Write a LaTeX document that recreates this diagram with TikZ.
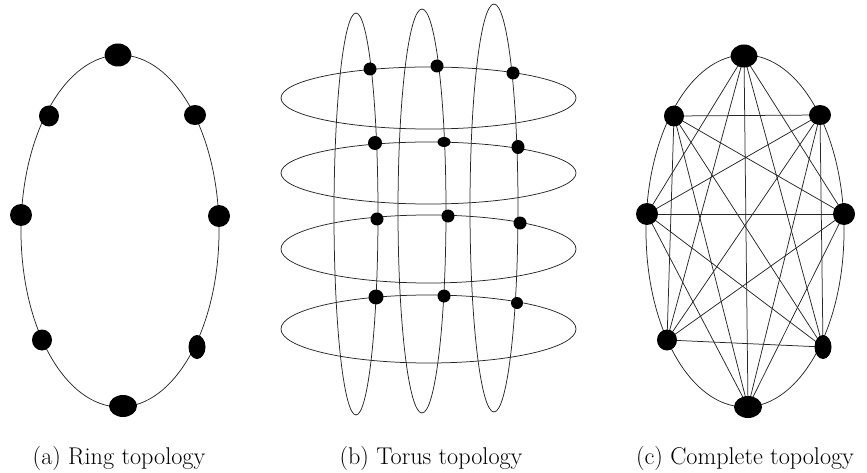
\documentclass[tikz,border=0pt]{standalone}
\usetikzlibrary{shapes.geometric}
\pgfdeclarelayer{bg}
\pgfsetlayers{bg,main}
\begin{document}
\begin{tikzpicture}[x=1pt,y=-1pt,
  wire/.style={draw=black!85,line width=0.75pt},
  dot/.style={ellipse,fill=black,inner sep=0pt},
  captext/.style={font=\fontsize{24.2}{29}\selectfont,inner sep=0pt,anchor=base}]
\useasboundingbox (0,0) rectangle (867,473);
% (a) ring
\draw[wire] (120,231) ellipse [x radius=99,y radius=176];
\node[dot,minimum width=27pt,minimum height=23pt] (a1) at (118,55) {};
\node[dot,minimum width=22pt,minimum height=20pt] (a2) at (195,115) {};
\node[dot,minimum width=22pt,minimum height=22pt] (a3) at (219,216) {};
\node[dot,minimum width=17pt,minimum height=24pt] (a4) at (197,347) {};
\node[dot,minimum width=28pt,minimum height=22pt] (a5) at (123,406) {};
\node[dot,minimum width=20pt,minimum height=21pt] (a6) at (42,340) {};
\node[dot,minimum width=22pt,minimum height=22pt] (a7) at (21,215) {};
\node[dot,minimum width=20pt,minimum height=21pt] (a8) at (49,116) {};
\node[captext] (ca) at (119,464) {(a) Ring topology};
% (b) torus
\draw[wire] (356,214) ellipse [x radius=22,y radius=201];
\draw[wire] (422,211) ellipse [x radius=24,y radius=202];
\draw[wire] (494,208) ellipse [x radius=24,y radius=204];
\draw[wire] (428.5,98) ellipse [x radius=147.5,y radius=31];
\draw[wire] (428.5,173) ellipse [x radius=147.5,y radius=31];
\draw[wire] (428.5,249) ellipse [x radius=147.5,y radius=34];
\draw[wire] (428.5,329) ellipse [x radius=147.5,y radius=34];
\node[dot,minimum width=13pt,minimum height=13pt] (b11) at (370,69) {};
\node[dot,minimum width=13pt,minimum height=13pt] (b12) at (437,66) {};
\node[dot,minimum width=13pt,minimum height=13pt] (b13) at (513,73) {};
\node[dot,minimum width=14pt,minimum height=14pt] (b21) at (375,143) {};
\node[dot,minimum width=13pt,minimum height=10pt] (b22) at (444,142) {};
\node[dot,minimum width=13pt,minimum height=14pt] (b23) at (518,147) {};
\node[dot,minimum width=13pt,minimum height=13pt] (b31) at (377,219) {};
\node[dot,minimum width=13pt,minimum height=13pt] (b32) at (448,216) {};
\node[dot,minimum width=13pt,minimum height=13pt] (b33) at (520,223) {};
\node[dot,minimum width=15pt,minimum height=15pt] (b41) at (376,297) {};
\node[dot,minimum width=13pt,minimum height=13pt] (b42) at (444,296) {};
\node[dot,minimum width=12pt,minimum height=12pt] (b43) at (517,303) {};
\node[captext] (cb) at (431,464) {(b) Torus topology};
% (c) complete
\begin{pgfonlayer}{bg}
\draw[wire] (745,231) ellipse [x radius=99,y radius=176];
\end{pgfonlayer}
\node[dot,minimum width=27pt,minimum height=23pt] (c1) at (744,56) {};
\node[dot,minimum width=22pt,minimum height=20pt] (c2) at (820,115) {};
\node[dot,minimum width=22pt,minimum height=22pt] (c3) at (844,214) {};
\node[dot,minimum width=17pt,minimum height=24pt] (c4) at (823,347) {};
\node[dot,minimum width=28pt,minimum height=22pt] (c5) at (748,407) {};
\node[dot,minimum width=20pt,minimum height=21pt] (c6) at (667,340) {};
\node[dot,minimum width=22pt,minimum height=22pt] (c7) at (647,214) {};
\node[dot,minimum width=20pt,minimum height=21pt] (c8) at (674,116) {};
\begin{pgfonlayer}{bg}
\foreach \i/\j in {1/3,1/4,1/5,1/6,1/7,2/4,2/5,2/6,2/7,2/8,3/5,3/6,3/7,3/8,4/6,4/7,4/8,5/7,5/8,6/8}
  \draw[wire] (c\i.center) -- (c\j.center);
\end{pgfonlayer}
\node[captext] (cc) at (745,464) {(c) Complete topology};
\end{tikzpicture}
\end{document}
